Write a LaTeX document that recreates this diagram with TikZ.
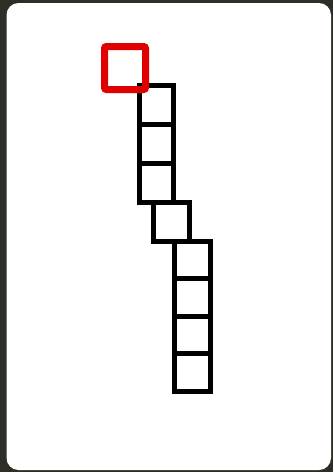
\documentclass[tikz,border=0pt]{standalone}
\definecolor{bgdark}{HTML}{2E2D26}
\definecolor{redsq}{HTML}{E00000}
\begin{document}
\begin{tikzpicture}[x=1pt,y=-1pt,
  cell/.style={draw=black,line width=5pt},
  redcell/.style={draw=redsq,line width=7pt,rounded corners=2pt}]
\useasboundingbox (0,0) rectangle (333,472);
\fill[bgdark] (0,0) rectangle (333,472);
\fill[white,rounded corners=12pt] (6.5,3) rectangle (331,470);
% column 1
\draw[cell] (139.5,85.5) rectangle (173.5,124.5);
\draw[cell] (139.5,124.5) rectangle (173.5,163.5);
\draw[cell] (139.5,163.5) rectangle (173.5,202.5);
% middle
\draw[cell] (153.5,202.5) rectangle (189,241);
% column 3
\draw[cell] (174.5,241) rectangle (210,278.5);
\draw[cell] (174.5,278.5) rectangle (210,316);
\draw[cell] (174.5,316) rectangle (210,353.5);
\draw[cell] (174.5,353.5) rectangle (210,391);
% red square
\draw[redcell] (104.5,46.5) rectangle (145.5,89.5);
\end{tikzpicture}
\end{document}
